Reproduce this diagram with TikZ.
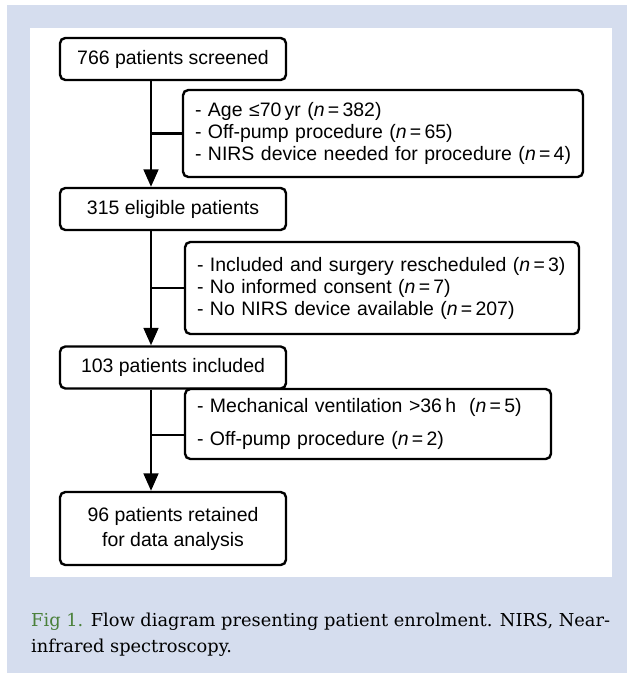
\documentclass[tikz,border=0pt]{standalone}
\usepackage{fontspec}
\setmainfont{Liberation Sans}
\newfontfamily\capfont{DejaVu Serif}
\usetikzlibrary{arrows.meta}

\definecolor{panelblue}{RGB}{213,221,238}
\definecolor{figgreen}{RGB}{74,128,58}

\begin{document}
\begin{tikzpicture}[x=0.75pt, y=-0.75pt, line width=1.8pt,
  >={Triangle[width=11pt, length=13pt]},
  stepbox/.style={draw, rounded corners=4pt, minimum width=169.5pt,
    minimum height=31.5pt, align=center,
    font=\fontsize{14.6}{18.75}\selectfont},
  exclbox/.style={draw, rounded corners=4pt, inner xsep=9pt, align=left,
    text width=#1, font=\fontsize{14.6}{16.5}\selectfont}]

% Page and panel
\useasboundingbox (0,0) rectangle (627,673);
\fill[panelblue] (7,5) rectangle (627,673);
\fill[white] (30,28) rectangle (612,577);

% Main flow
\coordinate (spine) at (151,0);
\node[stepbox] (screened) at (173,59) {766 patients screened};
\node[stepbox] (eligible) at (173,209) {315 eligible patients};
\node[stepbox] (included) at (173,367.5) {103 patients included};
\node[stepbox, minimum height=54.75pt] (retained) at (173,528.5)
  {96 patients retained\\for data analysis};

% Exclusions
\node[exclbox=282pt, minimum height=65.25pt] (exclscreen) at (383,133.5)
  {- Age ≤70\,yr (\textit{n}\,=\,382)\\
   - Off-pump procedure (\textit{n}\,=\,65)\\
   - NIRS device needed for procedure (\textit{n}\,=\,4)};
\node[exclbox=277.5pt, minimum height=69pt] (exclelig) at (382,288)
  {- Included and surgery rescheduled (\textit{n}\,=\,3)\\
   - No informed consent (\textit{n}\,=\,7)\\
   - No NIRS device available (\textit{n}\,=\,207)};
\node[exclbox=256.5pt, minimum height=52.5pt] (exclincl) at (368,424)
  {- Mechanical ventilation >36\,h\ \ (\textit{n}\,=\,5)\\[8.25pt]
   - Off-pump procedure (\textit{n}\,=\,2)};

% Arrows
\draw[->] (screened.south -| spine) -- (eligible.north -| spine);
\draw[->] (eligible.south -| spine) -- (included.north -| spine);
\draw[->] (included.south -| spine) -- (retained.north -| spine);
\draw (exclscreen.west -| spine) -- (exclscreen.west);
\draw (exclelig.west -| spine) -- (exclelig.west);
\draw ([yshift=-8.25pt]exclincl.west -| spine) -- ([yshift=-8.25pt]exclincl.west);

% Caption
\node[anchor=base west, inner sep=0pt, align=left,
  font=\capfont\fontsize{13.35}{19.5}\selectfont] (caption) at (30,652)
  {\textcolor{figgreen}{Fig 1.} Flow diagram presenting patient enrolment. NIRS, Near-\\
   infrared spectroscopy.};

\end{tikzpicture}
\end{document}
